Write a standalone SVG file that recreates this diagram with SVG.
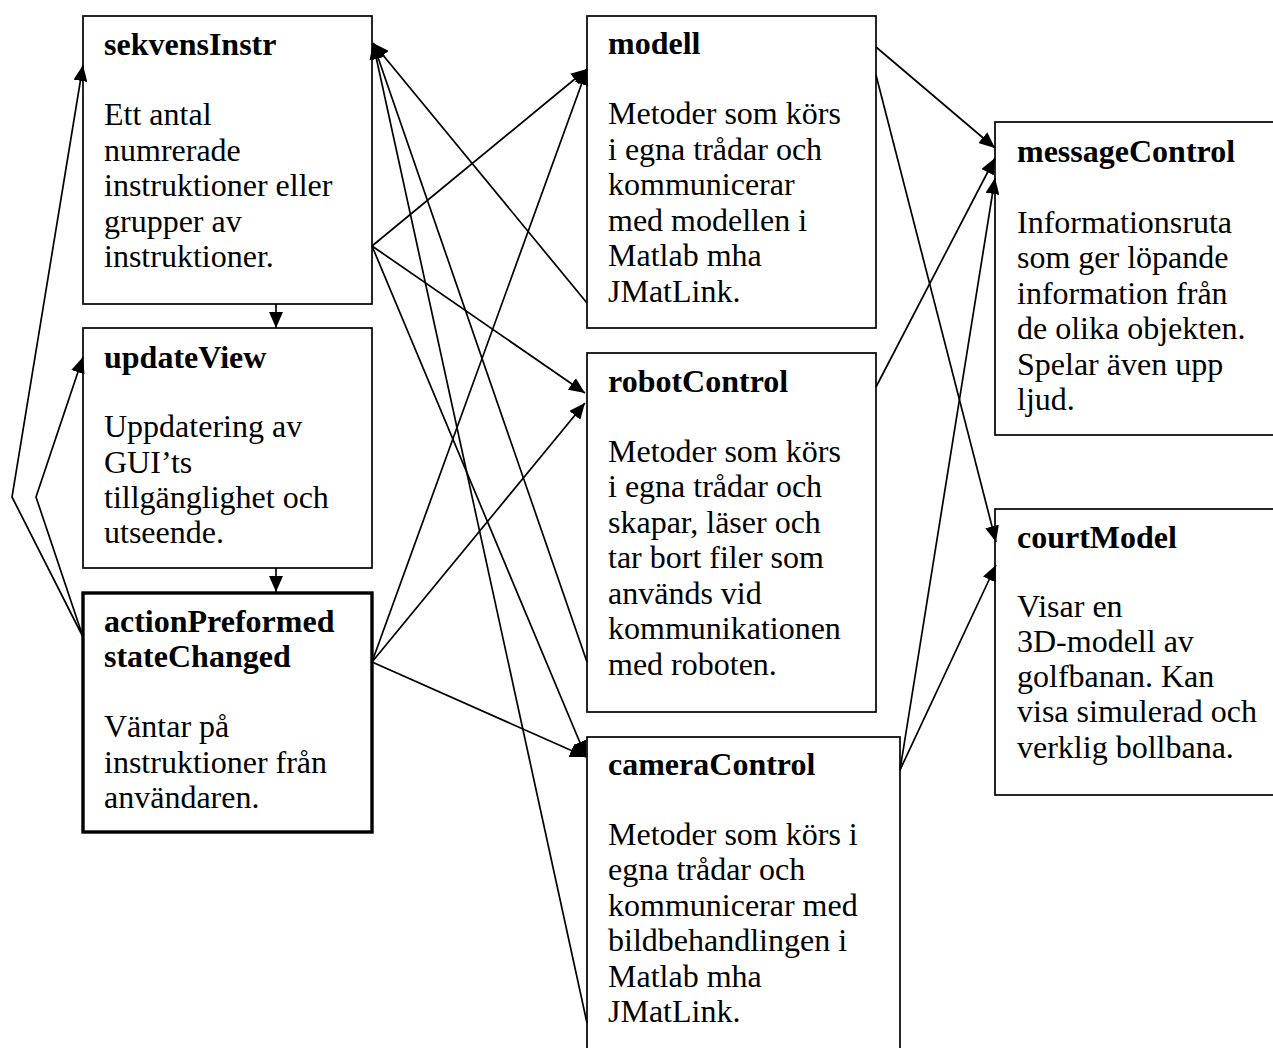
<svg xmlns="http://www.w3.org/2000/svg" width="1273" height="1048" viewBox="0 0 1273 1048">
<style>
.box{fill:#fff;stroke:#000;stroke-width:1.7}
.thick{stroke-width:3.4}
text{font-family:"Liberation Serif","Times New Roman",serif;font-size:32px;fill:#000}
.t{font-weight:bold}
.c{fill:none;stroke:#000;stroke-width:1.7}
</style>
<defs>
<marker id="a" markerUnits="userSpaceOnUse" markerWidth="17" markerHeight="14" refX="16" refY="7" orient="auto">
<path d="M0,0 L16,7 L0,14 z" fill="#000"/>
</marker>
</defs>
<rect width="1273" height="1048" fill="#fff"/>
<g id="sekvensInstr">
<rect class="box" x="83" y="16" width="289" height="288"/>
<text class="t" x="104" y="55">sekvensInstr</text>
<text x="104" y="125">Ett antal</text>
<text x="104" y="160.5">numrerade</text>
<text x="104" y="196">instruktioner eller</text>
<text x="104" y="231.5">grupper av</text>
<text x="104" y="267">instruktioner.</text>
</g>
<g id="updateView">
<rect class="box" x="83" y="328" width="289" height="240"/>
<text class="t" x="104" y="368">updateView</text>
<text x="104" y="437">Uppdatering av</text>
<text x="104" y="473">GUI’ts</text>
<text x="104" y="508">tillgänglighet och</text>
<text x="104" y="543">utseende.</text>
</g>
<g id="actionPreformed">
<rect class="box thick" x="83" y="593" width="289" height="239"/>
<text class="t" x="104" y="632">actionPreformed</text>
<text class="t" x="104" y="667">stateChanged</text>
<text x="104" y="737">Väntar på</text>
<text x="104" y="773">instruktioner från</text>
<text x="104" y="808">användaren.</text>
</g>
<g id="modell">
<rect class="box" x="587" y="16" width="289" height="312"/>
<text class="t" x="608" y="54">modell</text>
<text x="608" y="124">Metoder som körs</text>
<text x="608" y="160">i egna trådar och</text>
<text x="608" y="195">kommunicerar</text>
<text x="608" y="231">med modellen i</text>
<text x="608" y="266">Matlab mha</text>
<text x="608" y="302">JMatLink.</text>
</g>
<g id="robotControl">
<rect class="box" x="587" y="353" width="289" height="359"/>
<text class="t" x="608" y="392">robotControl</text>
<text x="608" y="462">Metoder som körs</text>
<text x="608" y="497">i egna trådar och</text>
<text x="608" y="533">skapar, läser och</text>
<text x="608" y="568">tar bort filer som</text>
<text x="608" y="604">används vid</text>
<text x="608" y="639">kommunikationen</text>
<text x="608" y="675">med roboten.</text>
</g>
<g id="cameraControl">
<rect class="box" x="587" y="737" width="313" height="340"/>
<text class="t" x="608" y="775">cameraControl</text>
<text x="608" y="845">Metoder som körs i</text>
<text x="608" y="880">egna trådar och</text>
<text x="608" y="916">kommunicerar med</text>
<text x="608" y="951">bildbehandlingen i</text>
<text x="608" y="987">Matlab mha</text>
<text x="608" y="1022">JMatLink.</text>
</g>
<g id="messageControl">
<rect class="box" x="995" y="122" width="300" height="313"/>
<text class="t" x="1017" y="162">messageControl</text>
<text x="1017" y="233">Informationsruta</text>
<text x="1017" y="268">som ger löpande</text>
<text x="1017" y="304">information från</text>
<text x="1017" y="339">de olika objekten.</text>
<text x="1017" y="375">Spelar även upp</text>
<text x="1017" y="410">ljud.</text>
</g>
<g id="courtModel">
<rect class="box" x="995" y="509" width="300" height="286"/>
<text class="t" x="1017" y="548">courtModel</text>
<text x="1017" y="617">Visar en</text>
<text x="1017" y="652">3D-modell av</text>
<text x="1017" y="687">golfbanan. Kan</text>
<text x="1017" y="722">visa simulerad och</text>
<text x="1017" y="758">verklig bollbana.</text>
</g>
<g id="connectors">
<path class="c" marker-end="url(#a)" d="M276,304 L276,328"/>
<path class="c" marker-end="url(#a)" d="M276,568 L276,592"/>
<path class="c" marker-end="url(#a)" d="M83,637 L12,497 L83,65"/>
<path class="c" marker-end="url(#a)" d="M83,637 L36,497 L83,357"/>
<path class="c" marker-end="url(#a)" d="M372,246 L587,69"/>
<path class="c" marker-end="url(#a)" d="M372,246 L585,393"/>
<path class="c" marker-end="url(#a)" d="M372,246 L586,757"/>
<path class="c" marker-end="url(#a)" d="M372,662 L587,69"/>
<path class="c" marker-end="url(#a)" d="M372,662 L585,403"/>
<path class="c" marker-end="url(#a)" d="M372,662 L586,757"/>
<path class="c" marker-end="url(#a)" d="M587,303 L373,43"/>
<path class="c" marker-end="url(#a)" d="M587,662 L373,43"/>
<path class="c" marker-end="url(#a)" d="M587,1023 L373,43"/>
<path class="c" marker-end="url(#a)" d="M876,47 L995,148"/>
<path class="c" marker-end="url(#a)" d="M876,387 L995,158"/>
<path class="c" marker-end="url(#a)" d="M900,770 L995,178"/>
<path class="c" marker-end="url(#a)" d="M876,75 L996,542"/>
<path class="c" marker-end="url(#a)" d="M900,770 L996,565"/>
</g>
</svg>
